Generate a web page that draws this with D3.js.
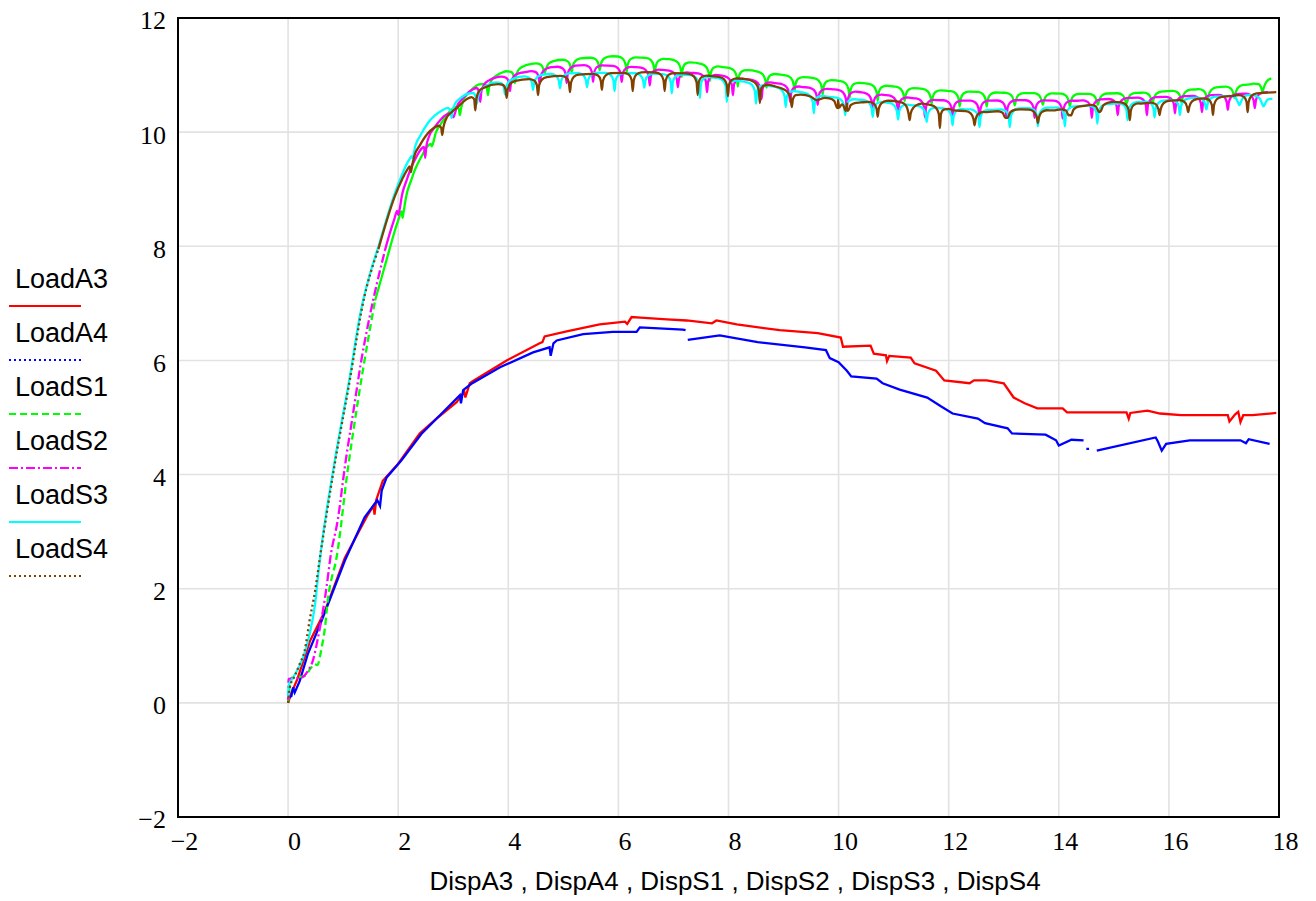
<!DOCTYPE html>
<html>
<head>
<meta charset="utf-8">
<script src="https://cdn.jsdelivr.net/npm/d3@7"></script>
<style>
  body { margin: 0; background: #fff; }
  .tick text { font-family: "Liberation Serif", "Times New Roman", serif; font-size: 26px; fill: #000; }
  .legend text, .xtitle { font-family: "Liberation Sans", Arial, sans-serif; fill: #000; }
</style>
</head>
<body>
<svg id="chart" width="1316" height="901"></svg>
<script>
// tick values
var xTicks = [-2, 0, 2, 4, 6, 8, 10, 12, 14, 16, 18];
var yTicks = [-2, 0, 2, 4, 6, 8, 10, 12];
var seriesNames = ['LoadA3', 'LoadA4', 'LoadS1', 'LoadS2', 'LoadS3', 'LoadS4'];
var xTitle = 'DispA3 , DispA4 , DispS1 , DispS2 , DispS3 , DispS4';

// LoadA3 / LoadA4 : [disp, load], null load = gap in the trace
var loadA3 = [[0,0],[0.05,0.15],[0.17,0.42],[0.4,1.09],[0.67,1.61],[1.03,2.54],[1.45,3.3],[1.55,3.45],[1.57,3.3],[1.6,3.55],[1.72,3.89],[2.0,4.19],[2.39,4.72],[2.72,5.0],[3.06,5.27],[3.2,5.45],[3.22,5.35],[3.3,5.6],[3.36,5.64],[3.97,6.0],[4.57,6.3],[4.62,6.32],[4.66,6.42],[5.06,6.51],[5.66,6.63],[6.12,6.68],[6.16,6.64],[6.24,6.76],[6.4,6.75],[6.88,6.72],[7.24,6.7],[7.7,6.65],[7.78,6.7],[8.15,6.63],[8.93,6.53],[9.62,6.48],[10.04,6.4],[10.08,6.24],[10.58,6.26],[10.64,6.12],[10.86,6.09],[10.88,5.99],[10.92,6.08],[11.31,6.05],[11.38,5.95],[11.77,5.82],[11.92,5.65],[12.38,5.6],[12.46,5.65],[12.69,5.65],[13.0,5.6],[13.18,5.35],[13.38,5.25],[13.61,5.16],[14.07,5.16],[14.15,5.09],[15.23,5.09],[15.27,4.98],[15.3,5.08],[15.61,5.12],[15.84,5.07],[16.22,5.04],[17.07,5.04],[17.1,4.93],[17.2,5.05],[17.26,5.1],[17.3,4.92],[17.35,5.04],[17.52,5.04],[17.95,5.08]];
var loadA4 = [[0,0.08],[0.06,0.12],[0.09,0.27],[0.12,0.18],[0.21,0.38],[0.36,0.86],[0.61,1.44],[1.03,2.49],[1.39,3.25],[1.62,3.55],[1.67,3.45],[1.7,3.72],[1.79,3.95],[2.06,4.25],[2.42,4.71],[2.79,5.07],[3.12,5.39],[3.14,5.25],[3.18,5.48],[3.33,5.59],[3.85,5.88],[4.45,6.14],[4.75,6.23],[4.77,6.08],[4.82,6.3],[4.88,6.35],[5.36,6.46],[5.9,6.5],[6.33,6.5],[6.39,6.58],[7.17,6.54],[7.22,6.53],[7.24,null],[7.26,6.36],[7.84,6.44],[8.53,6.32],[9.39,6.23],[9.77,6.18],[9.84,6.04],[10.0,5.97],[10.15,5.82],[10.23,5.72],[10.69,5.68],[10.8,5.6],[11.11,5.49],[11.61,5.35],[11.85,5.2],[12.07,5.07],[12.53,4.98],[12.66,4.9],[13.07,4.81],[13.15,4.72],[13.76,4.7],[13.95,4.6],[14.0,4.51],[14.23,4.61],[14.45,4.6],[14.47,null],[14.5,4.45],[14.55,4.45],[14.6,null],[14.69,4.42],[15.76,4.65],[15.8,4.58],[15.87,4.42],[15.95,4.54],[16.38,4.6],[17.3,4.6],[17.4,4.55],[17.45,4.62],[17.83,4.54]];

// LoadS1..S4 : rising branch and arch-top level [disp, load]
var loadS1Base = [[0,0],[0.03,0.3],[0.06,0.44],[0.3,0.47],[0.42,0.62],[0.48,0.68],[0.53,0.66],[0.61,0.97],[0.67,1.32],[0.72,1.79],[0.81,2.26],[0.85,2.4],[1.09,4.13],[1.27,5.3],[1.45,6.35],[1.58,7.05],[1.82,7.87],[2.06,8.69],[2.3,9.33],[2.6,9.91],[2.97,10.4],[3.4,10.8],[3.9,11.05],[4.4,11.19],[5.0,11.27],[5.9,11.33],[6.9,11.28],[7.9,11.14],[9.0,11.0],[10.0,10.9],[11.0,10.8],[12.0,10.72],[13.0,10.69],[14.5,10.67],[15.5,10.69],[16.5,10.75],[17.5,10.84],[17.78,10.92]];
var loadS2Base = [[0,0.05],[0.01,0.42],[0.24,0.44],[0.36,0.56],[0.45,0.74],[0.52,1.03],[0.61,1.49],[0.67,1.84],[0.73,2.26],[0.76,2.49],[0.91,3.25],[1.03,4.13],[1.18,5.07],[1.33,6.0],[1.48,6.76],[1.76,7.93],[2.0,8.75],[2.24,9.39],[2.48,9.86],[2.79,10.24],[3.08,10.5],[3.4,10.8],[3.75,10.95],[4.3,11.05],[4.8,11.14],[5.5,11.18],[6.3,11.14],[6.8,11.09],[7.3,11.04],[7.8,11.0],[8.3,10.93],[8.85,10.86],[9.35,10.79],[9.9,10.75],[10.4,10.7],[10.85,10.65],[11.3,10.6],[11.8,10.56],[12.5,10.55],[13.3,10.56],[14.3,10.55],[15.3,10.6],[16.3,10.63],[17.3,10.67],[17.8,10.7]];
var loadS3Base = [[0,0.1],[0.01,0.3],[0.09,0.44],[0.27,0.79],[0.39,1.2],[0.49,1.73],[0.56,2.37],[0.85,4.25],[1.12,5.7],[1.3,6.76],[1.64,7.99],[1.94,8.93],[2.24,9.68],[2.54,10.16],[2.91,10.47],[3.33,10.71],[3.8,10.88],[4.3,10.98],[4.8,11.02],[5.5,11.04],[6.5,11.03],[7.3,11.0],[7.8,10.95],[8.3,10.88],[8.8,10.8],[9.3,10.7],[9.8,10.62],[10.35,10.57],[10.85,10.52],[11.35,10.47],[11.85,10.42],[12.3,10.4],[12.8,10.39],[13.35,10.42],[13.9,10.43],[14.45,10.46],[15.0,10.5],[15.5,10.53],[16.0,10.56],[16.45,10.6],[17.0,10.63],[17.5,10.65],[17.8,10.6]];
var loadS4Base = [[0,0],[0.03,0.27],[0.12,0.47],[0.21,0.68],[0.3,0.91],[0.39,1.44],[0.49,1.96],[0.57,2.49],[0.85,4.2],[1.12,5.65],[1.36,7.0],[1.64,7.95],[1.94,8.88],[2.24,9.55],[2.54,9.98],[2.79,10.2],[3.08,10.44],[3.45,10.75],[3.97,10.88],[4.54,10.95],[5.12,11.0],[5.7,11.03],[6.5,11.05],[7.2,11.03],[7.7,10.98],[8.3,10.93],[8.85,10.8],[9.3,10.66],[9.5,10.62],[9.6,10.56],[9.75,10.6],[9.95,10.58],[10.1,10.5],[10.4,10.52],[10.9,10.55],[11.2,10.52],[11.3,10.45],[11.5,10.5],[11.84,10.45],[12.1,10.38],[12.7,10.35],[13.3,10.4],[13.9,10.38],[14.45,10.46],[15.0,10.53],[15.5,10.5],[16.0,10.55],[16.5,10.58],[17.1,10.63],[17.6,10.68],[17.95,10.7]];

// reload spikes of LoadS1..S4 : [disp, lowest load]
var loadS1Dips = [[2.08,8.5],[2.61,9.75],[3.12,10.3],[3.63,10.65],[4.12,10.86],[4.66,11.03],[5.15,11.05],[5.66,11.09],[6.15,11.05],[6.66,11.03],[7.15,10.97],[7.66,10.9],[8.17,10.8],[8.69,10.78],[9.2,10.72],[9.71,10.66],[10.2,10.6],[10.71,10.55],[11.2,10.55],[11.69,10.5],[12.2,10.45],[12.69,10.45],[13.2,10.47],[13.71,10.48],[14.2,10.46],[14.71,10.48],[15.23,10.5],[15.7,10.48],[16.23,10.52],[16.7,10.55],[17.19,10.6],[17.7,10.7]];
var loadS2Dips = [[2.0,8.55],[2.49,9.55],[3.0,10.26],[3.49,10.53],[4.03,10.72],[4.57,10.85],[5.06,10.86],[5.54,10.88],[6.06,10.88],[6.57,10.82],[7.08,10.79],[7.61,10.7],[8.08,10.65],[8.6,10.58],[9.12,10.53],[9.62,10.48],[10.15,10.42],[10.62,10.36],[11.08,10.3],[11.57,10.26],[12.07,10.25],[12.56,10.22],[13.05,10.25],[13.56,10.25],[14.07,10.24],[14.6,10.25],[15.07,10.3],[15.6,10.3],[16.11,10.33],[16.6,10.35],[17.07,10.39],[17.56,10.42]];
var loadS3Dips = [[2.24,9.58],[2.97,10.25],[3.43,10.5],[3.94,10.66],[4.45,10.74],[4.94,10.77],[5.43,10.79],[5.93,10.72],[6.47,10.78],[6.97,10.68],[7.48,10.6],[7.97,10.53],[8.5,10.5],[9.04,10.44],[9.55,10.33],[10.12,10.3],[10.62,10.27],[11.08,10.22],[11.6,10.18],[12.07,10.12],[12.56,10.09],[13.11,10.09],[13.62,10.1],[14.11,10.1],[14.7,10.15],[15.25,10.21],[15.74,10.26],[16.2,10.3],[16.68,10.4],[17.28,10.47],[17.72,10.45]];
var loadS4Dips = [[2.23,9.3],[2.8,9.95],[3.4,10.38],[3.97,10.6],[4.54,10.65],[5.12,10.7],[5.7,10.74],[6.26,10.72],[6.84,10.72],[7.44,10.65],[7.99,10.63],[8.57,10.51],[9.15,10.44],[9.99,10.42],[10.15,10.42],[10.71,10.27],[11.29,10.21],[11.84,10.07],[12.47,10.12],[13.05,10.25],[13.62,10.16],[14.2,10.3],[14.74,10.35],[15.29,10.21],[15.83,10.3],[16.35,10.35],[16.8,10.3],[17.43,10.35]];

/****************************/
// chart setup
const svg = d3.select('#chart');
const plotLeft = 178, plotRight = 1279, plotTop = 18, plotBottom = 817;

const xScale = d3.scaleLinear().domain([-2, 18]).range([plotLeft, plotRight]);
const yScale = d3.scaleLinear().domain([-2, 12]).range([plotBottom, plotTop]);

// grid
svg.append('g').selectAll('line').data(xTicks).enter().append('line')
  .attr('x1', d => xScale(d)).attr('x2', d => xScale(d))
  .attr('y1', plotTop).attr('y2', plotBottom)
  .attr('stroke', '#e2e2e2').attr('stroke-width', 1.6);
svg.append('g').selectAll('line').data(yTicks).enter().append('line')
  .attr('x1', plotLeft).attr('x2', plotRight)
  .attr('y1', d => yScale(d)).attr('y2', d => yScale(d))
  .attr('stroke', '#e2e2e2').attr('stroke-width', 1.6);

const fmt = d => d < 0 ? '\u2212' + Math.abs(d) : String(d);

const xAxis = svg.append('g')
  .attr('transform', `translate(0, ${plotBottom})`)
  .call(d3.axisBottom(xScale).tickValues(xTicks).tickSize(0).tickPadding(15).tickFormat(fmt));
xAxis.select('.domain').remove();
xAxis.selectAll('text').attr('dx', 6);

const yAxis = svg.append('g')
  .attr('transform', `translate(${plotLeft}, 0)`)
  .call(d3.axisLeft(yScale).tickValues(yTicks).tickSize(0).tickPadding(12).tickFormat(fmt));
yAxis.select('.domain').remove();
yAxis.selectAll('text').attr('dy', '0.42em');

/****************************/
// load curves
const line = d3.line()
  .defined(d => d[1] !== null)
  .x(d => xScale(d[0]))
  .y(d => yScale(d[1]));

const smooth = d3.line()
  .x(d => xScale(d[0]))
  .y(d => yScale(d[1]))
  .curve(d3.curveMonotoneX);

// put the reload spikes into the arch-top trace (rounded shoulders each side)
function withDips(base, dips) {
  const level = d3.scaleLinear().domain(base.map(d => d[0])).range(base.map(d => d[1]));
  const w = 0.16, mid = 0.07, inner = 0.02;
  const pts = base.filter(p => !dips.some(j => Math.abs(p[0] - j[0]) < w));
  dips.forEach(([xj, low]) => {
    pts.push([xj - w, level(xj - w)], [xj - mid, level(xj - mid) - 0.035], [xj - inner, level(xj) - 0.13],
             [xj, low],
             [xj + inner, level(xj) - 0.13], [xj + mid, level(xj + mid) - 0.035], [xj + w, level(xj + w)]);
  });
  return pts.sort((a, b) => a[0] - b[0]);
}

const dashSplit = 1.8; // the pattern only shows on the sparse rising branch

const styles = [
  { color: '#ff0000', dash: null },
  { color: '#0000ff', dash: '2,3' },
  { color: '#00ff00', dash: '7,4' },
  { color: '#ff00ff', dash: '9,3,2,3' },
  { color: '#00ffff', dash: null },
  { color: '#804000', dash: '2,3' }
];

const plot = svg.append('g');

plot.append('path').datum(loadA3)
  .attr('d', line).attr('fill', 'none')
  .attr('stroke', styles[0].color).attr('stroke-width', 2.3);
plot.append('path').datum(loadA4)
  .attr('d', line).attr('fill', 'none')
  .attr('stroke', styles[1].color).attr('stroke-width', 2.3);

[[loadS1Base, loadS1Dips], [loadS2Base, loadS2Dips], [loadS3Base, loadS3Dips], [loadS4Base, loadS4Dips]]
  .forEach(([base, dips], k) => {
    const st = styles[k + 2];
    const pts = withDips(base, dips);
    const early = pts.filter(p => p[0] <= dashSplit);
    const late = pts.filter(p => p[0] >= early[early.length - 1][0]);
    plot.append('path').datum(early)
      .attr('d', smooth).attr('fill', 'none')
      .attr('stroke', st.color).attr('stroke-width', 2.3)
      .attr('stroke-dasharray', st.dash);
    plot.append('path').datum(late)
      .attr('d', smooth).attr('fill', 'none')
      .attr('stroke', st.color).attr('stroke-width', 2.3)
      .attr('stroke-linejoin', 'round');
  });

// frame
svg.append('rect')
  .attr('x', plotLeft).attr('y', plotTop)
  .attr('width', plotRight - plotLeft).attr('height', plotBottom - plotTop)
  .attr('fill', 'none').attr('stroke', '#000').attr('stroke-width', 2);

/****************************/
// legend
const legend = svg.append('g').attr('class', 'legend');
seriesNames.forEach((name, i) => {
  legend.append('text')
    .attr('x', 15).attr('y', 288 + i * 54)
    .style('font-size', '27px')
    .text(name);
  legend.append('line')
    .attr('x1', 9).attr('x2', 81)
    .attr('y1', 306 + i * 54).attr('y2', 306 + i * 54)
    .attr('stroke', styles[i].color).attr('stroke-width', 2)
    .attr('stroke-dasharray', styles[i].dash);
});

svg.append('text')
  .attr('class', 'xtitle')
  .attr('x', 735).attr('y', 890)
  .attr('text-anchor', 'middle')
  .style('font-size', '26px')
  .text(xTitle);
</script>
</body>
</html>
